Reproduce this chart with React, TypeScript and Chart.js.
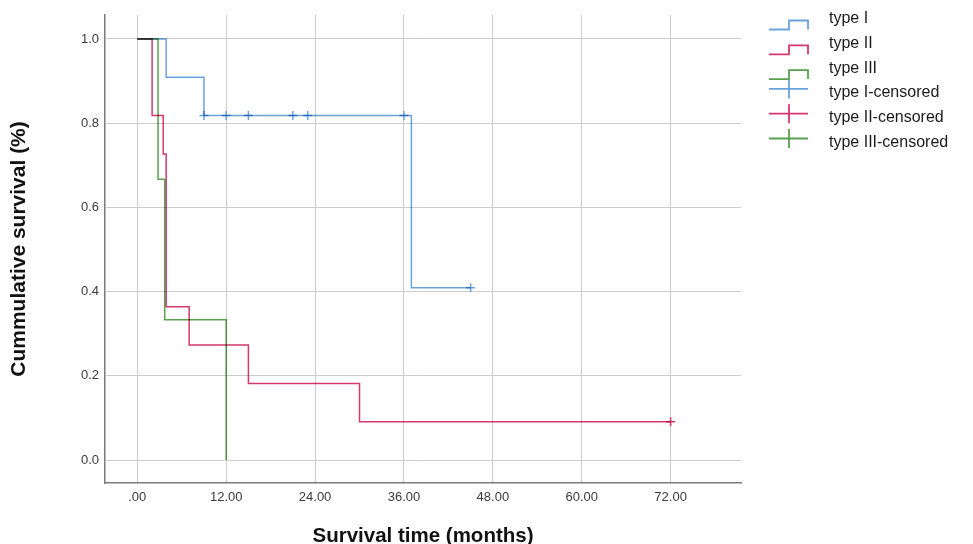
import React, { useEffect, useRef } from "react";
import { Chart, registerables } from "chart.js";

Chart.register(...registerables);

// ---- Data ----
const seriesNames = ["type I", "type II", "type III"];
const seriesColors = ["#6aa3dc", "#d6376d", "#58a04e"];

const typeITimes = [0, 3.9, 9, 37, 45];
const typeISurvival = [1, 0.909, 0.818, 0.409, 0.409];
const typeIITimes = [0, 2, 3.5, 3.9, 7, 15, 30, 72];
const typeIISurvival = [1, 0.818, 0.727, 0.364, 0.273, 0.182, 0.091, 0.091];
const typeIIITimes = [0, 2.8, 3.7, 12];
const typeIIISurvival = [1, 0.667, 0.333, 0];

const typeICensorTimes = [9, 12, 15, 21, 23, 36, 45];
const typeICensorSurvival = [0.818, 0.818, 0.818, 0.818, 0.818, 0.818, 0.409];
const typeIICensorTimes = [72];
const typeIICensorSurvival = [0.091];
const typeIIICensorTimes: number[] = [];
const typeIIICensorSurvival: number[] = [];

const xTickValues = [0, 12, 24, 36, 48, 60, 72];
const xTickLabels = [".00", "12.00", "24.00", "36.00", "48.00", "60.00", "72.00"];
const yTickValues = [0, 0.2, 0.4, 0.6, 0.8, 1.0];
const yTickLabels = ["0.0", "0.2", "0.4", "0.6", "0.8", "1.0"];

const legendLabels = [
  "type I",
  "type II",
  "type III",
  "type I-censored",
  "type II-censored",
  "type III-censored",
];

const xTitle = "Survival time (months)";
const yTitle = "Cummulative survival (%)";

const toPoints = (xs: number[], ys: number[]) => xs.map((x, i) => ({ x, y: ys[i] }));

const FONT = '"Liberation Sans", Arial, Helvetica, sans-serif';

// overlapping step lines blend darker, like the reference
const blendPlugin = {
  id: "kmBlend",
  beforeDatasetDraw(chart: any, args: any) {
    chart.ctx.save();
    if (args.meta.type === "line") chart.ctx.globalCompositeOperation = "multiply";
  },
  afterDatasetDraw(chart: any) {
    chart.ctx.restore();
  },
};

const legendPlugin = {
  id: "kmLegend",
  afterDraw(chart: any) {
    const ctx = chart.ctx as CanvasRenderingContext2D;
    const right = chart.chartArea.right;
    const x0 = right + 28;
    const x1 = right + 48;
    const x2 = right + 67;
    const textX = right + 88;
    ctx.save();
    legendLabels.forEach((label, i) => {
      const mid = 18.5 + 24.8 * i;
      const color = seriesColors[i % 3];
      ctx.strokeStyle = color;
      ctx.lineWidth = 1.8;
      ctx.beginPath();
      if (i < 3) {
        ctx.moveTo(x0, mid + 11);
        ctx.lineTo(x1, mid + 11);
        ctx.lineTo(x1, mid + 2);
        ctx.lineTo(x2, mid + 2);
        ctx.lineTo(x2, mid + 11);
      } else {
        const ly = mid - 4;
        ctx.moveTo(x0, ly);
        ctx.lineTo(x2, ly);
        ctx.moveTo(x1, ly - 9.5);
        ctx.lineTo(x1, ly + 9.5);
      }
      ctx.stroke();
      ctx.fillStyle = "#1a1a1a";
      ctx.font = `16px ${FONT}`;
      ctx.textBaseline = "middle";
      ctx.textAlign = "left";
      ctx.fillText(label, textX, mid);
    });
    ctx.restore();
  },
};

export default function App() {
  const canvasRef = useRef<HTMLCanvasElement | null>(null);

  useEffect(() => {
    if (!canvasRef.current) return;
    const curves = [
      toPoints(typeITimes, typeISurvival),
      toPoints(typeIITimes, typeIISurvival),
      toPoints(typeIIITimes, typeIIISurvival),
    ];
    const censors = [
      toPoints(typeICensorTimes, typeICensorSurvival),
      toPoints(typeIICensorTimes, typeIICensorSurvival),
      toPoints(typeIIICensorTimes, typeIIICensorSurvival),
    ];
    const datasets: any[] = [];
    curves.forEach((data, i) => {
      datasets.push({
        type: "line",
        label: seriesNames[i],
        data,
        stepped: "before",
        borderColor: seriesColors[i],
        borderWidth: 1.5,
        pointRadius: 0,
        fill: false,
        tension: 0,
      });
    });
    censors.forEach((data, i) => {
      datasets.push({
        type: "scatter",
        label: legendLabels[i + 3],
        data,
        showLine: false,
        pointStyle: "cross",
        pointRadius: 4.5,
        borderColor: seriesColors[i],
        backgroundColor: seriesColors[i],
        borderWidth: 1.5,
      });
    });

    const chart = new Chart(canvasRef.current, {
      type: "line",
      data: { datasets },
      options: {
        animation: false,
        responsive: false,
        maintainAspectRatio: false,
        layout: { padding: { left: 0, right: 232, top: 15, bottom: 0 } },
        plugins: {
          legend: { display: false },
          tooltip: { enabled: false },
        },
        scales: {
          x: {
            type: "linear",
            min: -4.36,
            max: 81.5,
            afterBuildTicks: (scale: any) => {
              scale.ticks = xTickValues.map((v) => ({ value: v }));
            },
            afterFit: (scale: any) => {
              scale.height = 61;
            },
            ticks: {
              callback: (_v: any, i: number) => xTickLabels[i],
              font: { size: 13, family: FONT },
              color: "#3a3a3a",
              padding: 7,
              maxRotation: 0,
              autoSkip: false,
            },
            grid: { color: "#cccccc", lineWidth: 1, drawTicks: false },
            border: { color: "#7a7a7a", width: 1.5 },
            title: {
              display: true,
              text: xTitle,
              font: { size: 20.5, weight: "bold", family: FONT, lineHeight: 0.7 },
              color: "#111",
              padding: { top: 0, bottom: 0 },
            },
          },
          y: {
            type: "linear",
            min: -0.0546,
            max: 1.057,
            afterBuildTicks: (scale: any) => {
              scale.ticks = yTickValues.map((v) => ({ value: v }));
            },
            afterFit: (scale: any) => {
              scale.width = 105;
            },
            ticks: {
              callback: (_v: any, i: number) => yTickLabels[i],
              font: { size: 13, family: FONT },
              color: "#3a3a3a",
              padding: 6,
              autoSkip: false,
            },
            grid: { color: "#cccccc", lineWidth: 1, drawTicks: false },
            border: { color: "#7a7a7a", width: 1.5 },
            title: {
              display: true,
              text: yTitle,
              font: { size: 21, weight: "bold", family: FONT },
              color: "#111",
              padding: { top: 7, bottom: 0 },
            },
          },
        },
      },
      plugins: [blendPlugin, legendPlugin],
    });
    return () => chart.destroy();
  }, []);

  return (
    <div style={{ position: "absolute", left: 0, top: 0, width: 973, height: 544, background: "#fff" }}>
      <canvas ref={canvasRef} width={973} height={544} style={{ display: "block" }} />
    </div>
  );
}
